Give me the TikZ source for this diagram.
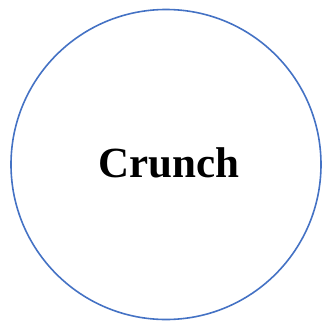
\documentclass[tikz,border=0pt]{standalone}
\usepackage{fontspec}
\setmainfont{Liberation Serif}
\usepackage{tikz}
\usetikzlibrary{positioning}
\definecolor{ringblue}{HTML}{4472C4}

\begin{document}
\begin{tikzpicture}[
    x=1pt, y=-1pt,
    ring/.style={circle, draw=ringblue, line width=1.6pt, minimum size=310pt, inner sep=0pt},
    word/.style={font=\fontsize{43}{47}\selectfont\bfseries, inner sep=0pt, anchor=base}
]
\useasboundingbox (0,0) rectangle (322,325);

% Circle
\node[ring] (ring) at (166,164.5) {};

% Label
\node[word] (crunch) at (169,177) {Crunch};

\end{tikzpicture}
\end{document}
